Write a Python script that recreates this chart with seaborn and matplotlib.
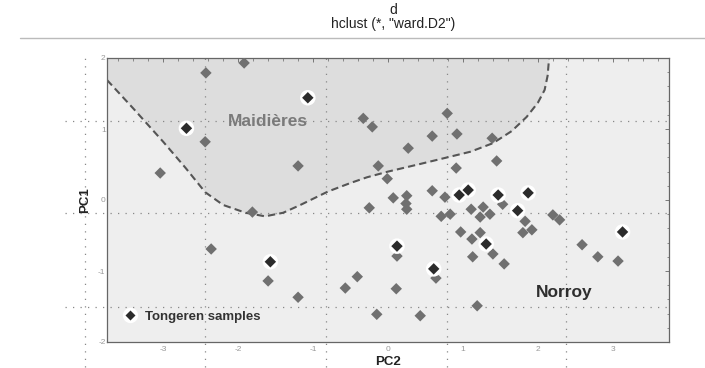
import matplotlib
matplotlib.use("Agg")
import matplotlib.pyplot as plt
import seaborn as sns
import pandas as pd
from matplotlib.lines import Line2D
from matplotlib.legend_handler import HandlerTuple

# ---------------- data ----------------
other_pc2 = [-1.92, -2.43, -2.44, -1.20, -3.04, -1.81, -0.33, -0.21, 0.79, 0.59, 0.92, 0.27, 1.39,
             -0.13, -0.01, 0.91, 1.45, 0.07, 0.25, 0.24, 0.25, -0.25, 0.59, 0.76, 1.53, 1.11, 1.27,
             0.71, 0.83, 1.23, 1.36, 1.83, 2.20, 2.29, 0.97, 1.23, 1.12, 1.80, 1.92, 1.40, 1.13,
             1.55, 2.59, 2.80, 0.12, 0.64, -0.41, -0.57, 0.11, 1.19, -0.15, 0.43, 3.07, -2.36,
             -1.60, -1.20]
other_pc1 = [1.93, 1.79, 0.82, 0.48, 0.38, -0.17, 1.15, 1.03, 1.22, 0.90, 0.93, 0.73, 0.87,
             0.48, 0.30, 0.45, 0.55, 0.03, 0.06, -0.05, -0.13, -0.11, 0.13, 0.04, -0.06, -0.13, -0.10,
             -0.23, -0.20, -0.24, -0.20, -0.30, -0.21, -0.28, -0.45, -0.46, -0.55, -0.46, -0.42, -0.76, -0.80,
             -0.90, -0.63, -0.80, -0.79, -1.10, -1.08, -1.24, -1.25, -1.49, -1.61, -1.63, -0.86, -0.69,
             -1.14, -1.37]
tong_pc2 = [-2.69, -1.07, 0.95, 1.07, 1.47, 1.87, 1.73, 1.31, 0.12, 0.61, 3.13, -1.57]
tong_pc1 = [1.01, 1.44, 0.07, 0.14, 0.07, 0.10, -0.15, -0.62, -0.65, -0.97, -0.45, -0.87]

# Maidières cluster boundary
bound_pc2 = [-3.75, -3.4, -3.0, -2.7, -2.44, -2.2, -1.9, -1.64, -1.4, -1.17, -0.8, -0.5, -0.28,
             0.0, 0.4, 0.79, 1.1, 1.4, 1.65, 1.85, 2.0, 2.09, 2.13, 2.15]
bound_pc1 = [1.69, 1.29, 0.82, 0.45, 0.11, -0.07, -0.18, -0.23, -0.18, -0.07, 0.12, 0.24, 0.32,
             0.40, 0.50, 0.60, 0.68, 0.80, 0.97, 1.17, 1.37, 1.55, 1.75, 2.0]

x_ticks = [-3, -2, -1, 0, 1, 2, 3]
y_ticks = [-2, -1, 0, 1, 2]
title_lines = ["d", 'hclust (*, "ward.D2")']
cluster_labels = ["Maidières", "Norroy"]
legend_label = "Tongeren samples"

df = pd.DataFrame({
    "PC2": other_pc2 + tong_pc2,
    "PC1": other_pc1 + tong_pc1,
    "group": ["other"] * len(other_pc2) + ["Tongeren"] * len(tong_pc2),
})

# ---------------- figure ----------------
sns.set_style("white")
plt.rcParams["font.family"] = ["Liberation Sans", "DejaVu Sans"]

fig = plt.figure(figsize=(7.05, 3.68), dpi=100)
ax = fig.add_axes([107 / 705, 1 - 342 / 368, 562 / 705, 284 / 368])
ax.set_xlim(-3.75, 3.75)
ax.set_ylim(-2, 2)
ax.set_facecolor("#eeeeee")

# shaded cluster region
ax.fill_between(bound_pc2, bound_pc1, 2, color="#dddddd", lw=0, zorder=0.5)
ax.plot(bound_pc2, bound_pc1, ls=(0, (3.5, 2)), color="#555555", lw=1.5, zorder=2)

# dotted overlay grid (extends beyond the frame)
for gx in [-4.04, -2.44, -0.83, 0.79, 2.37]:
    ax.plot([gx, gx], [-2.35, 2.04], ls=(0, (1, 5)), color="#888888", lw=0.9,
            clip_on=False, zorder=1)
for gy in [1.11, -0.18, -1.51]:
    ax.plot([-4.31, 3.75], [gy, gy], ls=(0, (1, 5)), color="#888888", lw=0.9,
            clip_on=False, zorder=1)

# points
sub_o = df[df.group == "other"]
sub_t = df[df.group == "Tongeren"]
sns.scatterplot(data=sub_o, x="PC2", y="PC1", marker="D", s=34, color="#707070",
                edgecolor="none", ax=ax, zorder=3, legend=False)
sns.scatterplot(data=sub_t, x="PC2", y="PC1", marker="o", s=125, color="white",
                edgecolor="none", ax=ax, zorder=3, legend=False)
sns.scatterplot(data=sub_t, x="PC2", y="PC1", marker="D", s=34, color="#2b2b2b",
                edgecolor="none", ax=ax, zorder=4, legend=False)

# cluster labels
ax.text(-1.6, 1.11, cluster_labels[0], fontsize=12.5, fontweight="bold", color="#7a7a7a",
        ha="center", va="center", zorder=5)
ax.text(2.35, -1.30, cluster_labels[1], fontsize=12.5, fontweight="bold", color="#2e2e2e",
        ha="center", va="center", zorder=5)

# legend
h = (Line2D([], [], marker="o", ls="", ms=11, color="white", mec="none"),
     Line2D([], [], marker="D", ls="", ms=5.5, color="#2b2b2b", mec="none"))
leg = ax.legend([h], [legend_label], handler_map={tuple: HandlerTuple(ndivide=1)},
                loc="lower left", bbox_to_anchor=(0.005, 0.025), frameon=False,
                handlelength=1.2, handletextpad=0.6,
                prop={"family": ["Liberation Sans"], "weight": "bold", "size": 9.5})
for t in leg.get_texts():
    t.set_color("#333333")

# axes styling
ax.set_xticks(x_ticks)
ax.set_yticks(y_ticks)
ax.set_xticklabels([str(v) for v in x_ticks])
ax.set_yticklabels([str(v) for v in y_ticks])
ax.set_xticks([v / 5 for v in range(-18, 19)], minor=True)
ax.set_yticks([v / 5 for v in range(-10, 11)], minor=True)
ax.tick_params(which="both", direction="in", top=True, right=True, colors="#666666",
               labelcolor="#999999", labelsize=6)
ax.tick_params(which="major", length=3, width=0.6)
ax.tick_params(which="minor", length=1.8, width=0.5)
ax.tick_params(axis="y", pad=1)
ax.tick_params(axis="x", pad=3)
for s in ax.spines.values():
    s.set_color("#666666")
    s.set_linewidth(0.9)
ax.set_xlabel("PC2", fontsize=9.5, fontweight="bold", color="#222222", labelpad=2)
ax.set_ylabel("PC1", fontsize=9.5, fontweight="bold", color="#222222", labelpad=5)

# header from the dendrogram above
fig.text(393 / 705, 1 - 10 / 368, title_lines[0], fontsize=10, ha="center", va="center",
         color="#222222")
fig.text(393 / 705, 1 - 24 / 368, title_lines[1], fontsize=10, ha="center", va="center",
         color="#222222")
fig.add_artist(Line2D([20 / 705, 1.0], [1 - 38 / 368, 1 - 38 / 368], color="#bbbbbb", lw=1))

fig.savefig("out.png", dpi=100, facecolor="white")
